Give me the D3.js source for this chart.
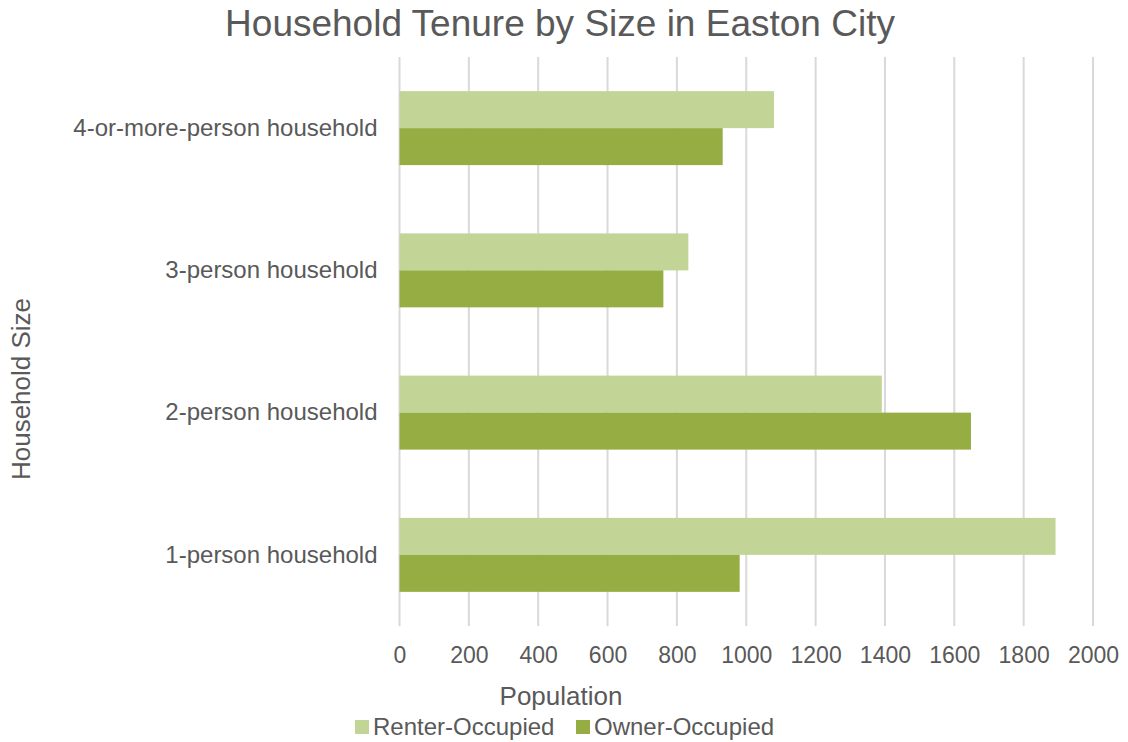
<script src="https://d3js.org/d3.v7.min.js"></script>
<style>
  body { margin: 0; background: #fff; }
  text { font-family: "Liberation Sans", Arial, sans-serif; fill: #595959; }
</style>
<svg width="1128" height="742"></svg>
<script>
  // Data
  const categories = ['4-or-more-person household', '3-person household', '2-person household', '1-person household'];
  const seriesNames = ['Renter-Occupied', 'Owner-Occupied'];
  const renter = [1080, 833, 1391, 1892];
  const owner = [932, 761, 1648, 981];
  const xTicks = [0, 200, 400, 600, 800, 1000, 1200, 1400, 1600, 1800, 2000];
  const colors = ['#c2d596', '#95ad42'];

  const svg = d3.select('svg');
  const plotLeft = 399.5, plotRight = 1093, plotTop = 57, plotBottom = 626;

  const x = d3.scaleLinear().domain([0, 2000]).range([plotLeft, plotRight]);
  const y = d3.scaleBand().domain(categories).range([plotTop, plotBottom]).paddingInner(0.48).paddingOuter(0.24);
  const sub = d3.scaleBand().domain(seriesNames).range([0, y.bandwidth()]);

  // Gridlines
  svg.append('g')
    .selectAll('line')
    .data(xTicks)
    .join('line')
    .attr('x1', d => x(d))
    .attr('x2', d => x(d))
    .attr('y1', plotTop)
    .attr('y2', plotBottom)
    .attr('stroke', '#d9d9d9')
    .attr('stroke-width', 2);

  // Bars
  const rows = categories.map((c, i) => ({ cat: c, vals: [renter[i], owner[i]] }));
  const groups = svg.append('g')
    .selectAll('g')
    .data(rows)
    .join('g')
    .attr('transform', d => `translate(0,${y(d.cat)})`);

  groups.selectAll('rect')
    .data(d => d.vals.map((v, j) => ({ name: seriesNames[j], v: v, j: j })))
    .join('rect')
    .attr('x', x(0))
    .attr('y', d => sub(d.name))
    .attr('width', d => x(d.v) - x(0))
    .attr('height', sub.bandwidth())
    .attr('fill', d => colors[d.j]);

  // X axis tick labels
  const xAxis = svg.append('g')
    .attr('transform', `translate(0,${plotBottom})`)
    .call(d3.axisBottom(x).tickValues(xTicks).tickSize(0).tickPadding(21).tickFormat(d3.format('d')));
  xAxis.select('.domain').remove();
  xAxis.selectAll('text')
    .style('font-size', '23px')
    .attr('fill', '#595959');

  // Y axis category labels
  const yAxis = svg.append('g')
    .attr('transform', `translate(${plotLeft},0)`)
    .call(d3.axisLeft(y).tickSize(0).tickPadding(22));
  yAxis.select('.domain').remove();
  yAxis.selectAll('text')
    .style('font-size', '24px')
    .attr('fill', '#595959');

  // Title
  svg.append('text')
    .attr('x', 560)
    .attr('y', 36)
    .attr('text-anchor', 'middle')
    .style('font-size', '37px')
    .text('Household Tenure by Size in Easton City');

  // Axis titles
  svg.append('text')
    .attr('x', 561)
    .attr('y', 705)
    .attr('text-anchor', 'middle')
    .style('font-size', '26px')
    .text('Population');

  svg.append('text')
    .attr('transform', 'translate(30,389) rotate(-90)')
    .attr('text-anchor', 'middle')
    .style('font-size', '26px')
    .text('Household Size');

  // Legend
  const legendX = [355, 576];
  const legend = svg.append('g')
    .selectAll('g')
    .data(seriesNames)
    .join('g')
    .attr('transform', (d, i) => `translate(${legendX[i]},720)`);
  legend.append('rect')
    .attr('width', 14)
    .attr('height', 14)
    .attr('fill', (d, i) => colors[i]);
  legend.append('text')
    .attr('x', 18)
    .attr('y', 15)
    .style('font-size', '24px')
    .text(d => d);
</script>
